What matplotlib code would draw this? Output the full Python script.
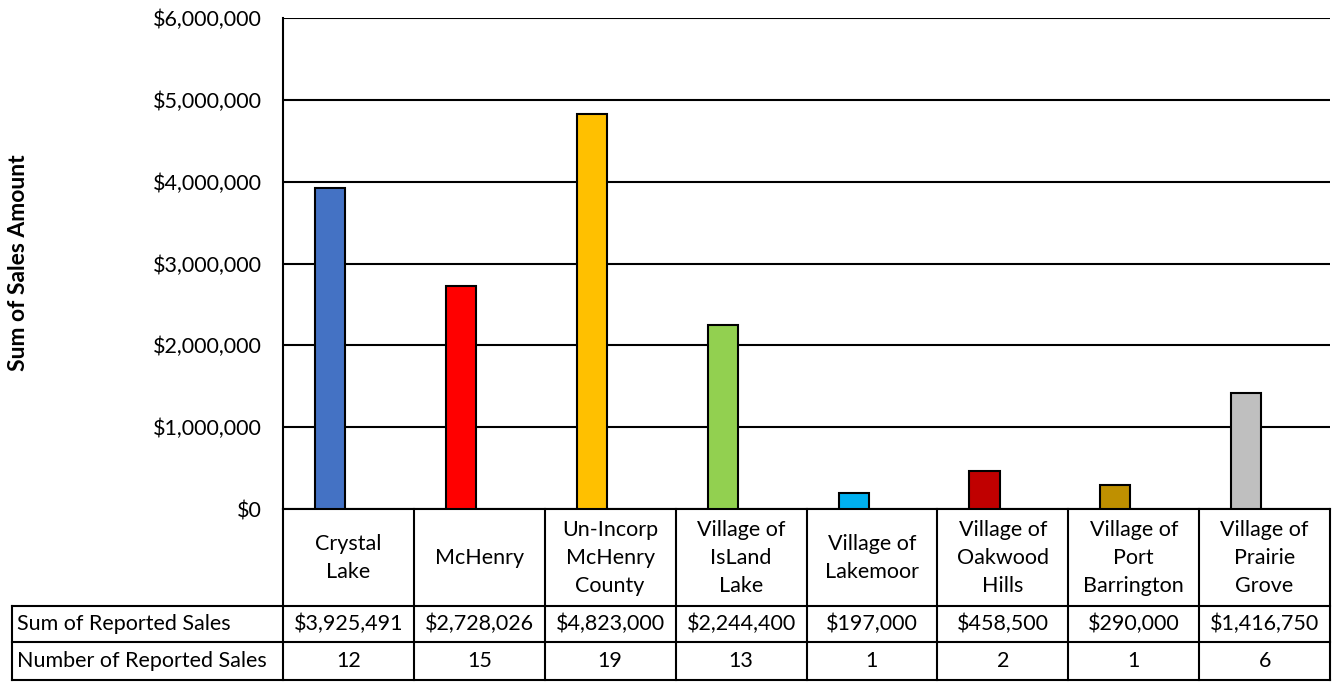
import matplotlib.pyplot as plt
from matplotlib.ticker import FuncFormatter

plt.rcParams['font.family'] = ['Lato', 'DejaVu Sans']

categories = ["Crystal\nLake", "McHenry", "Un-Incorp\nMcHenry\nCounty", "Village of\nIsLand\nLake",
              "Village of\nLakemoor", "Village of\nOakwood\nHills", "Village of\nPort\nBarrington",
              "Village of\nPrairie\nGrove"]
sales = [3925491, 2728026, 4823000, 2244400, 197000, 458500, 290000, 1416750]
counts = [12, 15, 19, 13, 1, 2, 1, 6]
colors = ["#4472C4", "#FF0000", "#FFC000", "#92D050", "#00B0F0", "#C00000", "#BF9000", "#BFBFBF"]
row_labels = ["Sum of Reported Sales", "Number of Reported Sales"]
yticks = [0, 1000000, 2000000, 3000000, 4000000, 5000000, 6000000]

W, H = 1335, 682
fig = plt.figure(figsize=(W / 100, H / 100), dpi=100)
fs = 15.5

# main chart area in pixels
x0, x1, ytop, ybot = 283, 1330, 18, 509
ax = fig.add_axes([x0 / W, 1 - ybot / H, (x1 - x0) / W, (ybot - ytop) / H])
n = len(categories)
pos = [i - 0.14 for i in range(n)]
ax.bar(pos, sales, width=0.23, color=colors, edgecolor="black", linewidth=1.5, zorder=3)
ax.set_xlim(-0.5, n - 0.5)
ax.set_ylim(0, 6000000)
ax.set_yticks(yticks)
ax.yaxis.set_major_formatter(FuncFormatter(lambda v, p: "${:,.0f}".format(v)))
ax.tick_params(axis="y", length=0, pad=15, labelsize=fs)
ax.set_xticks([])
ax.grid(axis="y", color="black", linewidth=1.5, zorder=0)
for s in ["top", "right"]:
    ax.spines[s].set_visible(False)
ax.spines["left"].set_linewidth(1.5)
ax.spines["bottom"].set_linewidth(1.5)
fig.text(19 / W, 1 - 263 / H, "Sum of Sales Amount", rotation=90, ha="center", va="center",
         fontsize=16.5, fontweight="bold")

# data table below the chart
tx0, tybot = 12, 680
unit = (x1 - x0) / n
left_cat = -0.5 - (x0 - tx0) / unit
tax = fig.add_axes([tx0 / W, 1 - tybot / H, (x1 - tx0) / W, (tybot - ybot) / H])
tax.set_xlim(left_cat, n - 0.5)
tax.set_ylim(tybot, ybot)
tax.axis("off")

r1, r2 = 606, 642
lw = 1.5
for i in range(n + 1):
    tax.plot([i - 0.5, i - 0.5], [ybot, tybot], color="black", lw=lw, clip_on=False)
tax.plot([left_cat, left_cat], [r1, tybot], color="black", lw=lw, clip_on=False)
for yy in [r1, r2, tybot]:
    tax.plot([left_cat, n - 0.5], [yy, yy], color="black", lw=lw, clip_on=False)

for i in range(n):
    tax.text(i, (ybot + r1) / 2 + 1, categories[i], ha="center", va="center", fontsize=fs, linespacing=1.5)
    tax.text(i, (r1 + r2) / 2, "${:,}".format(sales[i]), ha="center", va="center", fontsize=fs)
    tax.text(i, (r2 + tybot) / 2, str(counts[i]), ha="center", va="center", fontsize=fs)
pad = 5 / unit
tax.text(left_cat + pad, (r1 + r2) / 2, row_labels[0], ha="left", va="center", fontsize=fs)
tax.text(left_cat + pad, (r2 + tybot) / 2, row_labels[1], ha="left", va="center", fontsize=fs)

fig.savefig("out.png", dpi=100)
